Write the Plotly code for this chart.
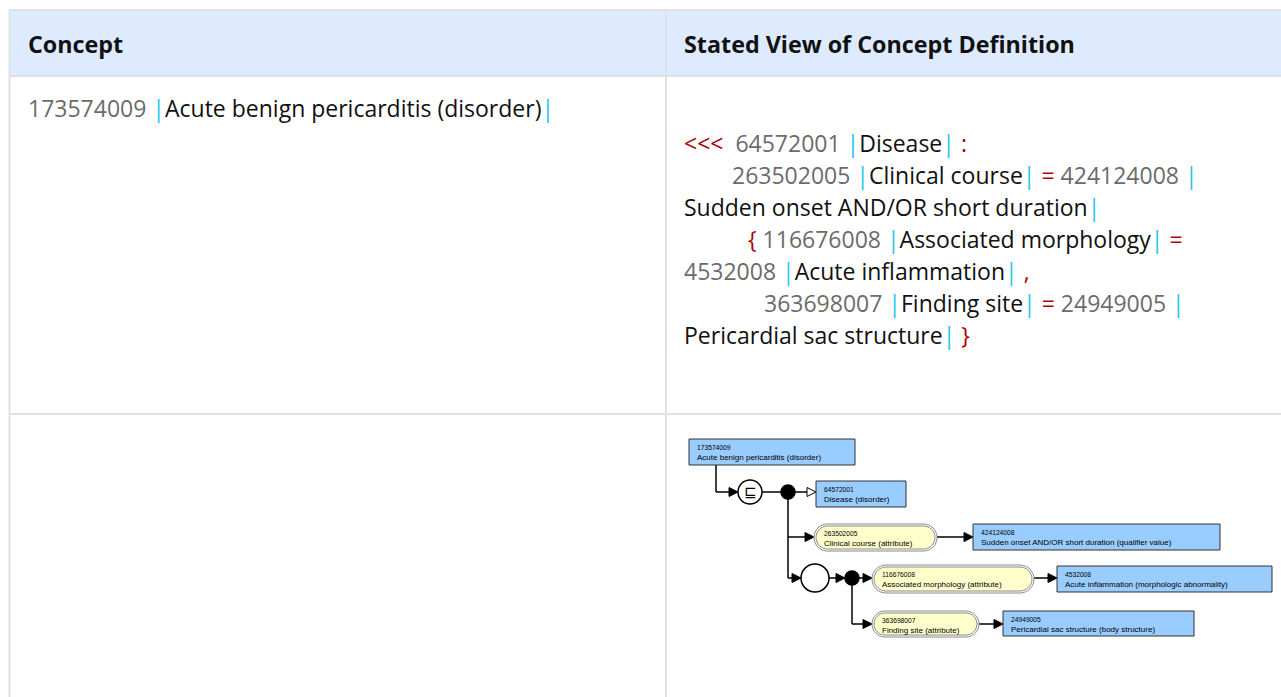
import plotly.graph_objects as go

W, H = 1281, 697

# ---------------- content ----------------
header_labels = ["Concept", "Stated View of Concept Definition"]
concept_id = "173574009"
concept_term = "Acute benign pericarditis (disorder)"

# stated definition, one list of (kind, text) tokens per printed line
definition_lines = [
    [("op", "<<<"), ("sp", "  "), ("id", "64572001"), ("sp", " "), ("pipe", "|"), ("term", "Disease"), ("pipe", "|"), ("sp", " "), ("op", ":")],
    [("id", "263502005"), ("sp", " "), ("pipe", "|"), ("term", "Clinical course"), ("pipe", "|"), ("sp", " "), ("op", "="), ("sp", " "), ("id", "424124008"), ("sp", " "), ("pipe", "|")],
    [("term", "Sudden onset AND/OR short duration"), ("pipe", "|")],
    [("op", "{"), ("sp", " "), ("id", "116676008"), ("sp", " "), ("pipe", "|"), ("term", "Associated morphology"), ("pipe", "|"), ("sp", " "), ("op", "=")],
    [("id", "4532008"), ("sp", " "), ("pipe", "|"), ("term", "Acute inflammation"), ("pipe", "|"), ("sp", " "), ("op", ",")],
    [("id", "363698007"), ("sp", " "), ("pipe", "|"), ("term", "Finding site"), ("pipe", "|"), ("sp", " "), ("op", "="), ("sp", " "), ("id", "24949005"), ("sp", " "), ("pipe", "|")],
    [("term", "Pericardial sac structure"), ("pipe", "|"), ("sp", " "), ("op", "}")],
]

# diagram nodes
concept_ids = ["173574009", "64572001", "424124008", "4532008", "24949005"]
concept_terms = ["Acute benign pericarditis (disorder)", "Disease (disorder)",
                 "Sudden onset AND/OR short duration (qualifier value)",
                 "Acute inflammation (morphologic abnormality)",
                 "Pericardial sac structure (body structure)"]
attribute_ids = ["263502005", "116676008", "363698007"]
attribute_terms = ["Clinical course (attribute)", "Associated morphology (attribute)", "Finding site (attribute)"]

# ---------------- layout / style ----------------
FONT = "Open Sans"
SMALL_FONT = "Liberation Sans"
colors = {"op": "#b00000", "id": "#6b6b6b", "term": "#111111", "pipe": "#29c5ee", "sp": "#000000"}
BORDER = "#dfe1e6"
HEAD_BG = "#deebff"
BLUE = "#99ccff"
YELLOW = "#ffffcc"
BODY_SIZE = 23
HEAD_SIZE = 23.3

table_left, table_top = 9.5, 10
col_split = 666
head_bottom = 76
row_bottom = 414

def_x0 = 684
def_indent = [0, 48, 0, 64, 0, 80, 0]
def_y0, def_dy = 143, 32

concept_boxes = [(689, 439, 855, 465), (816, 481, 906, 507), (973, 524, 1220, 550),
                 (1057, 566, 1272, 592), (1003, 611, 1194, 636)]
attribute_pills = [(814, 524, 937, 551), (872, 565, 1034, 593), (872, 611, 979, 637)]

shapes = []
annotations = []


def add_line(x0, y0, x1, y1, color="#000000", width=1.5):
    shapes.append(dict(type="line", xref="x", yref="y", x0=x0, y0=y0, x1=x1, y1=y1,
                       line=dict(color=color, width=width)))


def add_head(x, y, filled=True):
    path = f"M {x-9},{y-4.5} L {x},{y} L {x-9},{y+4.5} Z"
    shapes.append(dict(type="path", xref="x", yref="y", path=path,
                       fillcolor="#000000" if filled else "#ffffff",
                       line=dict(color="#000000", width=1)))


def add_arrow(x0, y, x1, filled=True):
    add_line(x0, y, x1 - 8, y)
    add_head(x1, y, filled)


def add_circle(cx, cy, r, fill):
    shapes.append(dict(type="circle", xref="x", yref="y", x0=cx - r, y0=cy - r, x1=cx + r, y1=cy + r,
                       fillcolor=fill, line=dict(color="#000000", width=1.5)))


def pill_path(x0, y0, x1, y1):
    r = (y1 - y0) / 2
    k = 0.5523 * r
    return (f"M {x0+r},{y0} L {x1-r},{y0} "
            f"C {x1-r+k},{y0} {x1},{y0+r-k} {x1},{y0+r} "
            f"C {x1},{y0+r+k} {x1-r+k},{y1} {x1-r},{y1} "
            f"L {x0+r},{y1} "
            f"C {x0+r-k},{y1} {x0},{y0+r+k} {x0},{y0+r} "
            f"C {x0},{y0+r-k} {x0+r-k},{y0} {x0+r},{y0} Z")


def text(x, y, s, size, color="#000000", family=FONT, xanchor="left"):
    annotations.append(dict(x=x, y=y, xref="x", yref="y", text=s, showarrow=False,
                            xanchor=xanchor, yanchor="middle", align="left",
                            font=dict(family=family, size=size, color=color)))


# ---- table background / borders ----
shapes.append(dict(type="rect", xref="x", yref="y", x0=table_left, y0=table_top, x1=W + 2, y1=head_bottom,
                   fillcolor=HEAD_BG, line=dict(width=0), layer="below"))
for (x0, y0, x1, y1) in [(table_left, table_top, W + 2, table_top), (table_left, table_top, table_left, H + 2),
                         (table_left, head_bottom, W + 2, head_bottom), (table_left, row_bottom, W + 2, row_bottom),
                         (col_split, table_top, col_split, H + 2)]:
    add_line(x0, y0, x1, y1, color=BORDER, width=2)

# ---- header ----
text(26, 44, f"<b>{header_labels[0]}</b>", HEAD_SIZE, "#111111")
text(682, 44, f"<b>{header_labels[1]}</b>", HEAD_SIZE, "#111111")

# ---- concept cell ----
def span(kind, s):
    s = s.replace(" ", "\u00a0") if kind == "sp" else s
    return f"<span style='color:{colors[kind]}'>{s}</span>"

concept_tokens = [("id", concept_id), ("sp", " "), ("pipe", "|"), ("term", concept_term), ("pipe", "|")]
text(26, 108, "".join(span(k, s) for k, s in concept_tokens), BODY_SIZE)

# ---- definition cell ----
for i, tokens in enumerate(definition_lines):
    text(def_x0 - 2 + def_indent[i], def_y0 + i * def_dy, "".join(span(k, s) for k, s in tokens), BODY_SIZE)

# ---- diagram: connectors ----
bA = concept_boxes[0]
add_line(716, bA[3], 716, 492)
add_arrow(716, 492, 738)
add_circle(750, 492, 12, "#ffffff")
text(750, 492, "⊑", 15, "#000000", family="DejaVu Sans", xanchor="center")
add_line(762, 492, 781, 492)
add_circle(788, 492, 7, "#000000")
add_arrow(795, 492, concept_boxes[1][0], filled=False)
add_line(788, 492, 788, 578)
add_arrow(788, 537, attribute_pills[0][0])
add_arrow(attribute_pills[0][2], 537, concept_boxes[2][0])
add_arrow(788, 578, 801)
add_circle(815, 578, 14, "#ffffff")
add_arrow(829, 578, 845)
add_circle(852, 578, 7, "#000000")
add_arrow(859, 578, attribute_pills[1][0])
add_arrow(attribute_pills[1][2], 578, concept_boxes[3][0])
add_line(852, 578, 852, 624)
add_arrow(852, 624, attribute_pills[2][0])
add_arrow(attribute_pills[2][2], 624, concept_boxes[4][0])

# ---- diagram: nodes ----
for (x0, y0, x1, y1), cid, term in zip(concept_boxes, concept_ids, concept_terms):
    shapes.append(dict(type="rect", xref="x", yref="y", x0=x0, y0=y0, x1=x1, y1=y1,
                       fillcolor=BLUE, line=dict(color="#333333", width=1)))
    text(x0 + 6, y0 + 8, cid, 6.7, "#000000", family=SMALL_FONT)
    text(x0 + 6, y0 + 18.5, term, 8, "#000000", family=SMALL_FONT)

for (x0, y0, x1, y1), aid, term in zip(attribute_pills, attribute_ids, attribute_terms):
    shapes.append(dict(type="path", xref="x", yref="y", path=pill_path(x0, y0, x1, y1),
                       fillcolor="#ffffff", line=dict(color="#8a8a8a", width=1)))
    shapes.append(dict(type="path", xref="x", yref="y", path=pill_path(x0 + 2, y0 + 2, x1 - 2, y1 - 2),
                       fillcolor=YELLOW, line=dict(color="#8a8a8a", width=1)))
    text(x0 + 8, y0 + 9, aid, 6.7, "#000000", family=SMALL_FONT)
    text(x0 + 8, y0 + 19.5, term, 8, "#000000", family=SMALL_FONT)

fig = go.Figure()
fig.add_trace(go.Scatter(x=[0, W], y=[0, H], mode="markers", marker=dict(opacity=0), hoverinfo="skip", showlegend=False))
fig.update_layout(
    width=W, height=H, margin=dict(l=0, r=0, t=0, b=0),
    paper_bgcolor="#ffffff", plot_bgcolor="#ffffff",
    xaxis=dict(range=[0, W], visible=False, fixedrange=True),
    yaxis=dict(range=[H, 0], visible=False, fixedrange=True),
    shapes=shapes, annotations=annotations, showlegend=False,
)
fig.write_html("out.html", config={"displayModeBar": False},
               post_script="document.body.style.margin='0';document.body.style.overflow='hidden';")
